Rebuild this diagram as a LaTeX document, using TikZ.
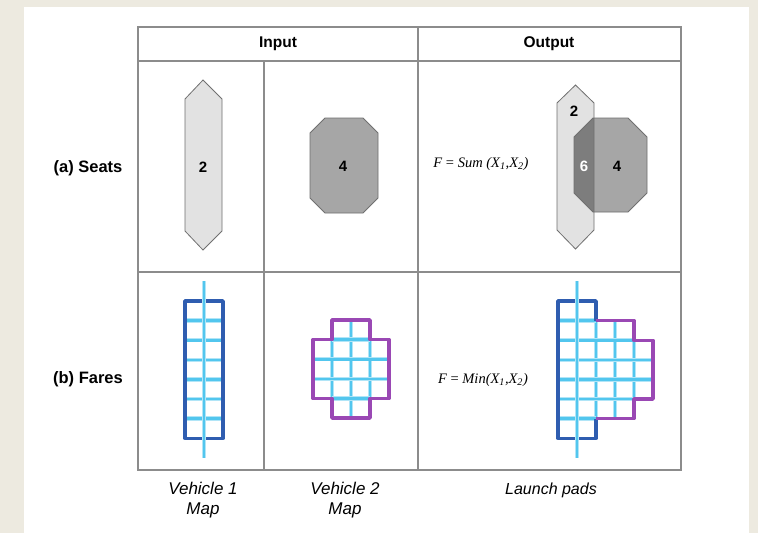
\documentclass[tikz,border=0pt]{standalone}
\usepackage{fontspec}
\setmainfont{Liberation Sans}
\newfontfamily\formulafont{Liberation Serif}
\definecolor{pagebg}{HTML}{EDEAE0}
\definecolor{rulegray}{HTML}{8C8C8C}
\definecolor{lightpad}{HTML}{E2E2E2}
\definecolor{darkpad}{HTML}{A6A6A6}
\definecolor{overlap}{HTML}{7D7D7D}
\definecolor{padedge}{HTML}{707070}
\definecolor{gridcyan}{HTML}{52C6EE}
\definecolor{gridblue}{HTML}{2F5DB0}
\definecolor{gridpurple}{HTML}{9A48B4}

\begin{document}
\begin{tikzpicture}[x=1pt,y=-1pt,
      tablerule/.style={draw=rulegray,line width=1.4pt},
      heading/.style={font=\fontsize{15.5}{18}\selectfont\bfseries},
      rowhead/.style={font=\fontsize{16.5}{19}\selectfont\bfseries},
      caption/.style={font=\fontsize{17}{20}\selectfont\itshape,align=center},
      formula/.style={font=\fontsize{14.5}{17}\formulafont\itshape},
      padnum/.style={font=\fontsize{15}{18}\selectfont\bfseries},
      innerline/.style={draw=gridcyan,line width=2.6pt,
        preaction={draw=gridcyan!45,line width=4.4pt}},
      blueedge/.style={draw=gridblue,line width=3.4pt,line join=round},
      purpleedge/.style={draw=gridpurple,line width=3.4pt,line join=round}]

  % page
  \useasboundingbox (0,0) rectangle (758,533);
  \fill[pagebg] (0,0) rectangle (758,533);
  \fill[white] (24,7) rectangle (749,533);

  % table
  \draw[tablerule] (138,27) rectangle (681,470);
  \draw[tablerule] (138,61) -- (681,61);
  \draw[tablerule] (418,27) -- (418,470);
  \draw[tablerule] (264,61) -- (264,470);
  \draw[tablerule] (138,272) -- (681,272);

  \node[heading] (input) at (278,44) {Input};
  \node[heading] (output) at (549,44) {Output};
  \node[rowhead] (seats) at (88,168) {(a) Seats};
  \node[rowhead] (fares) at (88,379) {(b) Fares};

  % seats, input
  \filldraw[fill=lightpad,draw=padedge,line width=0.8pt]
    (203,80) -- (222,99) -- (222,231) -- (203,250) -- (185,231) -- (185,99) -- cycle;
  \filldraw[fill=darkpad,draw=padedge,line width=0.8pt]
    (325,118) -- (363,118) -- (378,133) -- (378,198) -- (363,213)
    -- (325,213) -- (310,198) -- (310,133) -- cycle;
  \node[padnum] (twoa) at (203,167) {2};
  \node[padnum] (foura) at (343,166) {4};

  % seats, output
  \fill[lightpad]
    (575.5,85) -- (594,103) -- (594,230) -- (575.5,249) -- (557,230) -- (557,103) -- cycle;
  \fill[darkpad]
    (593,118) -- (628,118) -- (647,137) -- (647,193) -- (628,212)
    -- (593,212) -- (574,193) -- (574,137) -- cycle;
  \begin{scope}
    \clip (575.5,85) -- (594,103) -- (594,230) -- (575.5,249) -- (557,230) -- (557,103) -- cycle;
    \fill[overlap]
      (593,118) -- (628,118) -- (647,137) -- (647,193) -- (628,212)
      -- (593,212) -- (574,193) -- (574,137) -- cycle;
  \end{scope}
  \draw[padedge,line width=0.8pt]
    (575.5,85) -- (594,103) -- (594,230) -- (575.5,249) -- (557,230) -- (557,103) -- cycle;
  \draw[padedge,line width=0.8pt]
    (593,118) -- (628,118) -- (647,137) -- (647,193) -- (628,212)
    -- (593,212) -- (574,193) -- (574,137) -- cycle;
  \node[padnum] (twob) at (574,111) {2};
  \node[padnum,white] (sixb) at (584,166) {6};
  \node[padnum] (fourb) at (617,166) {4};
  \node[formula] (sumf) at (481,164)
    {F \upshape=\itshape\ Sum (X\textsubscript{1},X\textsubscript{2})};

  % fares, vehicle 1
  \begin{scope}[shift={(185,301)},x=19pt,y=-19.6pt]
    \foreach \r in {1,...,6}
      \draw[innerline] (0,\r) -- (2,\r);
    \draw[blueedge] (0,0) rectangle (2,7);
    \draw[innerline] (1,-1) -- (1,8);
  \end{scope}

  % fares, vehicle 2
  \begin{scope}[shift={(313,320)},x=19pt,y=-19.6pt]
    \draw[innerline] (1,1) -- (1,4);
    \draw[innerline] (2,0) -- (2,5);
    \draw[innerline] (3,1) -- (3,4);
    \draw[innerline] (1,1) -- (3,1);
    \draw[innerline] (0,2) -- (4,2);
    \draw[innerline] (0,3) -- (4,3);
    \draw[innerline] (1,4) -- (3,4);
    \draw[purpleedge] (1,0) -- (3,0) -- (3,1) -- (4,1) -- (4,4) -- (3,4) -- (3,5)
      -- (1,5) -- (1,4) -- (0,4) -- (0,1) -- (1,1) -- cycle;
  \end{scope}

  % fares, output
  \begin{scope}[shift={(558,301)},x=19pt,y=-19.6pt]
    \draw[innerline] (2,1) -- (2,6);
    \draw[innerline] (3,1) -- (3,6);
    \draw[innerline] (4,2) -- (4,5);
    \draw[innerline] (0,1) -- (2,1);
    \draw[innerline] (0,2) -- (4,2);
    \draw[innerline] (0,3) -- (5,3);
    \draw[innerline] (0,4) -- (5,4);
    \draw[innerline] (0,5) -- (4,5);
    \draw[innerline] (0,6) -- (2,6);
    \draw[blueedge] (2,1) -- (2,0) -- (0,0) -- (0,7) -- (2,7) -- (2,6);
    \draw[purpleedge] (2,1) -- (4,1) -- (4,2) -- (5,2) -- (5,5) -- (4,5) -- (4,6) -- (2,6);
    \draw[innerline] (1,-1) -- (1,8);
  \end{scope}
  \node[formula] (minf) at (483,380)
    {F \upshape=\itshape\ Min(X\textsubscript{1},X\textsubscript{2})};

  % captions
  \node[caption] (vehone) at (203,500) {Vehicle 1\\Map};
  \node[caption] (vehtwo) at (345,500) {Vehicle 2\\Map};
  \node[caption,font=\fontsize{16}{20}\selectfont\itshape] (pads) at (551,490) {Launch pads};
\end{tikzpicture}
\end{document}
